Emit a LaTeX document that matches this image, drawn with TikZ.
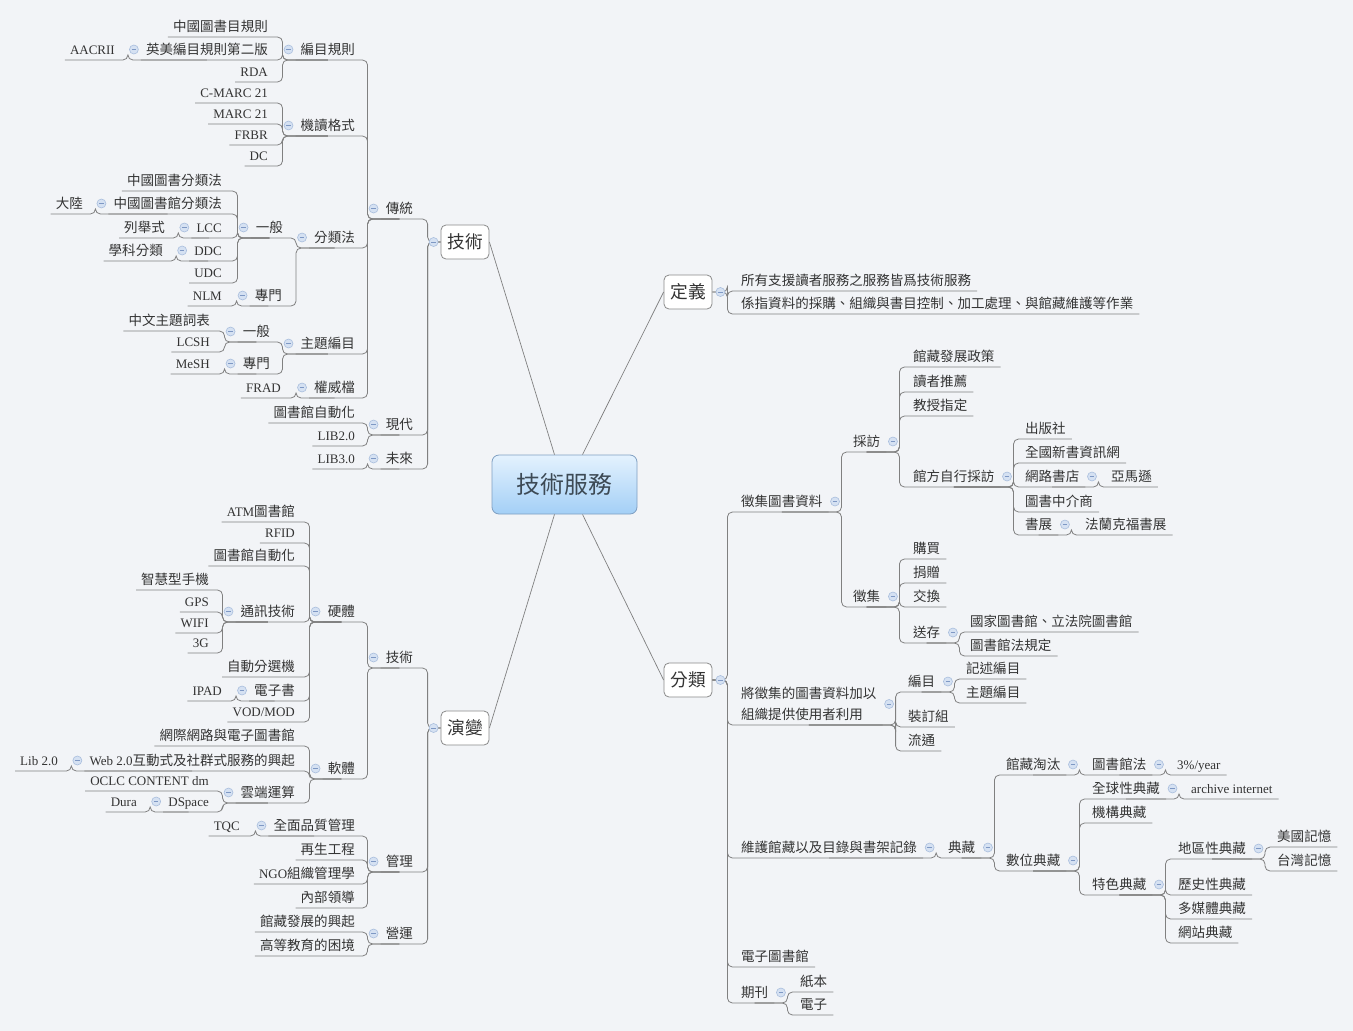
\documentclass[tikz,border=0pt]{standalone}
\usepackage{fontspec}
\usetikzlibrary{calc}
\setmainfont{Liberation Serif}
\newfontfamily\cjkf[Scale=1.04]{Noto Sans CJK TC}
\XeTeXinterchartokenstate=1
\newXeTeXintercharclass\cjkcls
\makeatletter
\count@="3000
\loop \XeTeXcharclass\count@=\cjkcls \advance\count@ by 1 \ifnum\count@<"3040 \repeat
\count@="4E00
\loop \XeTeXcharclass\count@=\cjkcls \advance\count@ by 1 \ifnum\count@<"A000 \repeat
\count@="FF00
\loop \XeTeXcharclass\count@=\cjkcls \advance\count@ by 1 \ifnum\count@<"FFF0 \repeat
\makeatother
\XeTeXinterchartoks 0 \cjkcls = {\cjkf}
\XeTeXinterchartoks 4095 \cjkcls = {\cjkf}
\XeTeXinterchartoks \cjkcls 0 = {\rmfamily}
\XeTeXinterchartoks \cjkcls 4095 = {\rmfamily}
\definecolor{bgc}{HTML}{F2F4F7}
\definecolor{lc}{HTML}{808080}
\definecolor{tc}{HTML}{333333}
\definecolor{togf}{HTML}{D5E1F2}
\definecolor{togd}{HTML}{A9BEDD}
\definecolor{togm}{HTML}{7E98C4}
\definecolor{bc}{HTML}{8A8A8A}
\definecolor{rtop}{HTML}{E4F2FE}
\definecolor{rbot}{HTML}{A3CFF6}
\definecolor{rbd}{HTML}{7F9FC2}
\definecolor{rtx}{HTML}{3D4A55}
\newcommand\txtf{\fontsize{13}{15}\selectfont}
\newcommand\boxf{\fontsize{17}{19}\selectfont}
\newcommand\rootf{\fontsize{23}{26}\selectfont}
\tikzset{
 txt/.style={inner xsep=0pt, inner ysep=0pt, text height=11pt, text depth=5.5pt, font=\txtf, text=tc},
 L/.style={txt, anchor=south east},
 R/.style={txt, anchor=south west},
 conn/.style={draw=lc, line width=0.8pt, rounded corners=5pt},
 rl/.style={draw=lc, line width=0.7pt},
 tog/.style={circle, draw=togd, fill=togf, minimum size=9pt, inner sep=0pt, line width=0.6pt,
   path picture={\draw[togm, line width=0.8pt] ([xshift=-2.3pt]path picture bounding box.center) -- ([xshift=2.3pt]path picture bounding box.center);}},
 mbox/.style={draw=bc, fill=white, rounded corners=5pt, minimum width=48pt, minimum height=34pt, inner sep=0pt, font=\boxf, text=tc, line width=0.8pt},
 rootbox/.style={draw=rbd, top color=rtop, bottom color=rbot, rounded corners=7pt, minimum width=145pt, minimum height=59pt, inner sep=0pt, font=\rootf, text=rtx, line width=0.8pt},
}
\newcommand\LL[2]{\draw[conn] ([xshift=-5pt]#1.south west) -- ($(#1.south -| #2.west)+(-18,0)$) |- (#2.south);}
\newcommand\RR[2]{\draw[conn] ([xshift=6pt]#1.south east) -- ($(#1.south -| #2.east)+(19,0)$) |- (#2.south);}
\newcommand\LB[2]{\draw[conn] ([xshift=-5pt]#1.south west) -- ($(#1.south -| #2.west)+(-13,0)$) |- (#2.west);}
\newcommand\RB[2]{\draw[conn] ([xshift=6pt]#1.south east) -- ($(#1.south -| #2.east)+(15,0)$) |- (#2.east);}
\newcommand\TL[1]{\node[tog] at ($(#1.south west)+(-12,-10.5)$) {};}
\newcommand\TR[1]{\node[tog] at ($(#1.south east)+(12.5,-10.5)$) {};}
\begin{document}
\begin{tikzpicture}[x=1pt,y=-1pt]
\fill[bgc] (0,0) rectangle (1353,1031);
\useasboundingbox (0,0) rectangle (1353,1031);
% root and main boxes
\node[rootbox] (root) at (564.5,484.5) {技術服務};
\node[mbox] (bT) at (465,242) {技術};
\node[mbox] (bE) at (465,728) {演變};
\node[mbox] (bD) at (688,292) {定義};
\node[mbox] (bC) at (688,680) {分類};
% ---- 技術 branch
\node[L] (t1) at (413,219) {傳統};
\node[L] (t2) at (413,435) {現代};
\node[L] (t3) at (413,469) {未來};
\node[L] (t11) at (355,60) {編目規則};
\node[L] (t12) at (355,136) {機讀格式};
\node[L] (t13) at (355,248) {分類法};
\node[L] (t14) at (355,354) {主題編目};
\node[L] (t15) at (355,398) {權威檔};
\node[L] (t111) at (268,37) {中國圖書目規則};
\node[L] (t112) at (268,60) {英美編目規則第二版};
\node[L] (t1121) at (115,60) {AACRII};
\node[L] (t113) at (268,82) {RDA};
\node[L] (t121) at (268,103) {C-MARC 21};
\node[L] (t122) at (268,124) {MARC 21};
\node[L] (t123) at (268,145) {FRBR};
\node[L] (t124) at (268,166) {DC};
\node[L] (t131) at (283,238) {一般};
\node[L] (t132) at (282,306) {專門};
\node[L] (t1311) at (222,191) {中國圖書分類法};
\node[L] (t1312) at (222,214) {中國圖書館分類法};
\node[L] (t13121) at (83,214) {大陸};
\node[L] (t1313) at (222,238) {LCC};
\node[L] (t13131) at (165,238) {列舉式};
\node[L] (t1314) at (222,261) {DDC};
\node[L] (t13141) at (163,261) {學科分類};
\node[L] (t1315) at (222,283) {UDC};
\node[L] (t1321) at (222,306) {NLM};
\node[L] (t141) at (270,342) {一般};
\node[L] (t142) at (270,374) {專門};
\node[L] (t1411) at (210,331) {中文主題詞表};
\node[L] (t1412) at (210,352) {LCSH};
\node[L] (t1421) at (210,374) {MeSH};
\node[L] (t151) at (281,398) {FRAD};
\node[L] (t21) at (355,423) {圖書館自動化};
\node[L] (t22) at (355,446) {LIB2.0};
\node[L] (t31) at (355,469) {LIB3.0};
% ---- 演變 branch
\node[L] (e1) at (413,668) {技術};
\node[L] (e2) at (413,872) {管理};
\node[L] (e3) at (413,944) {營運};
\node[L] (e11) at (355,622) {硬體};
\node[L] (e12) at (355,779) {軟體};
\node[L] (e111) at (295,522) {ATM圖書館};
\node[L] (e112) at (295,543) {RFID};
\node[L] (e113) at (295,566) {圖書館自動化};
\node[L] (e114) at (295,622) {通訊技術};
\node[L] (e115) at (295,677) {自動分選機};
\node[L] (e116) at (295,701) {電子書};
\node[L] (e1161) at (222,701) {IPAD};
\node[L] (e117) at (295,722) {VOD/MOD};
\node[L] (e1141) at (209,590) {智慧型手機};
\node[L] (e1142) at (209,612) {GPS};
\node[L] (e1143) at (209,633) {WIFI};
\node[L] (e1144) at (209,653) {3G};
\node[L] (e121) at (295,746) {網際網路與電子圖書館};
\node[L] (e122) at (295,771) {Web 2.0互動式及社群式服務的興起};
\node[L] (e1221) at (58,771) {Lib 2.0};
\node[L] (e123) at (295,803) {雲端運算};
\node[L] (e1231) at (209,791) {OCLC CONTENT dm};
\node[L] (e1232) at (209,812) {DSpace};
\node[L] (e12321) at (137,812) {Dura};
\node[L] (e21) at (355,836) {全面品質管理};
\node[L] (e211) at (240,836) {TQC};
\node[L] (e22) at (355,860) {再生工程};
\node[L] (e23) at (355,884) {NGO組織管理學};
\node[L] (e24) at (355,908) {內部領導};
\node[L] (e31) at (355,932) {館藏發展的興起};
\node[L] (e32) at (355,956) {高等教育的困境};
% ---- 定義 branch
\node[R] (d1) at (741,291) {所有支援讀者服務之服務皆爲技術服務};
\node[R] (d2) at (741,314) {係指資料的採購、組織與書目控制、加工處理、與館藏維護等作業};
% ---- 分類 branch
\node[R] (c1) at (741,512) {徵集圖書資料};
\node[R] (c2) at (741,725) {\fontsize{13}{21}\selectfont\begin{tabular}[b]{@{}l@{}}將徵集的圖書資料加以\\組織提供使用者利用\end{tabular}};
\node[R] (c3) at (741,858) {維護館藏以及目錄與書架記錄};
\node[R] (c4) at (741,967) {電子圖書館};
\node[R] (c5) at (741,1003) {期刊};
\node[R] (c11) at (853,452) {採訪};
\node[R] (c12) at (853,607) {徵集};
\node[R] (c111) at (913,367) {館藏發展政策};
\node[R] (c112) at (913,392) {讀者推薦};
\node[R] (c113) at (913,416) {教授指定};
\node[R] (c114) at (913,487) {館方自行採訪};
\node[R] (c1141) at (1025,439) {出版社};
\node[R] (c1142) at (1025,463) {全國新書資訊網};
\node[R] (c1143) at (1025,487) {網路書店};
\node[R] (c11431) at (1111,487) {亞馬遜};
\node[R] (c1144) at (1025,512) {圖書中介商};
\node[R] (c1145) at (1025,535) {書展};
\node[R] (c11451) at (1085,535) {法蘭克福書展};
\node[R] (c121) at (913,559) {購買};
\node[R] (c122) at (913,583) {捐贈};
\node[R] (c123) at (913,607) {交換};
\node[R] (c124) at (913,643) {送存};
\node[R] (c1241) at (970,632) {國家圖書館、立法院圖書館};
\node[R] (c1242) at (970,656) {圖書館法規定};
\node[R] (c21) at (908,692) {編目};
\node[R] (c22) at (908,727) {裝訂組};
\node[R] (c23) at (908,751) {流通};
\node[R] (c211) at (966,679) {記述編目};
\node[R] (c212) at (966,703) {主題編目};
\node[R] (c31) at (948,858) {典藏};
\node[R] (c311) at (1006,775) {館藏淘汰};
\node[R] (c312) at (1006,871) {數位典藏};
\node[R] (c3111) at (1092,775) {圖書館法};
\node[R] (c31111) at (1177,775) {3\%/year};
\node[R] (c3121) at (1092,799) {全球性典藏};
\node[R] (c31211) at (1191,799) {archive internet};
\node[R] (c3122) at (1092,823) {機構典藏};
\node[R] (c3123) at (1092,895) {特色典藏};
\node[R] (c31231) at (1178,859) {地區性典藏};
\node[R] (c312311) at (1277,847) {美國記憶};
\node[R] (c312312) at (1277,871) {台灣記憶};
\node[R] (c31232) at (1178,895) {歷史性典藏};
\node[R] (c31233) at (1178,919) {多媒體典藏};
\node[R] (c31234) at (1178,943) {網站典藏};
\node[R] (c51) at (800,992) {紙本};
\node[R] (c52) at (800,1015) {電子};
% ---- connectors
\draw[rl] (bT.east) -- ([xshift=-10pt]root.north);
\draw[rl] (bD.west) -- ([xshift=18pt]root.north);
\draw[rl] ([xshift=-10pt]root.south) -- (bE.east);
\draw[rl] ([xshift=18pt]root.south) -- (bC.west);
\LB{t1}{bT}\LB{t2}{bT}\LB{t3}{bT}
\LL{t11}{t1}\LL{t12}{t1}\LL{t13}{t1}\LL{t14}{t1}\LL{t15}{t1}
\LL{t111}{t11}\LL{t112}{t11}\LL{t113}{t11}\LL{t1121}{t112}
\LL{t121}{t12}\LL{t122}{t12}\LL{t123}{t12}\LL{t124}{t12}
\LL{t131}{t13}\LL{t132}{t13}
\LL{t1311}{t131}\LL{t1312}{t131}\LL{t1313}{t131}\LL{t1314}{t131}\LL{t1315}{t131}
\LL{t13121}{t1312}\LL{t13131}{t1313}\LL{t13141}{t1314}
\LL{t1321}{t132}
\LL{t141}{t14}\LL{t142}{t14}\LL{t1411}{t141}\LL{t1412}{t141}\LL{t1421}{t142}
\LL{t151}{t15}
\LL{t21}{t2}\LL{t22}{t2}\LL{t31}{t3}
\LB{e1}{bE}\LB{e2}{bE}\LB{e3}{bE}
\LL{e11}{e1}\LL{e12}{e1}
\LL{e111}{e11}\LL{e112}{e11}\LL{e113}{e11}\LL{e114}{e11}\LL{e115}{e11}\LL{e116}{e11}\LL{e117}{e11}
\LL{e1161}{e116}
\LL{e1141}{e114}\LL{e1142}{e114}\LL{e1143}{e114}\LL{e1144}{e114}
\LL{e121}{e12}\LL{e122}{e12}\LL{e123}{e12}\LL{e1221}{e122}
\LL{e1231}{e123}\LL{e1232}{e123}\LL{e12321}{e1232}
\LL{e21}{e2}\LL{e22}{e2}\LL{e23}{e2}\LL{e24}{e2}\LL{e211}{e21}
\LL{e31}{e3}\LL{e32}{e3}
\RB{d1}{bD}\RB{d2}{bD}
\RB{c1}{bC}\RB{c2}{bC}\RB{c3}{bC}\RB{c4}{bC}\RB{c5}{bC}
\RR{c11}{c1}\RR{c12}{c1}
\RR{c111}{c11}\RR{c112}{c11}\RR{c113}{c11}\RR{c114}{c11}
\RR{c1141}{c114}\RR{c1142}{c114}\RR{c1143}{c114}\RR{c1144}{c114}\RR{c1145}{c114}
\RR{c11431}{c1143}\RR{c11451}{c1145}
\RR{c121}{c12}\RR{c122}{c12}\RR{c123}{c12}\RR{c124}{c12}
\RR{c1241}{c124}\RR{c1242}{c124}
\RR{c21}{c2}\RR{c22}{c2}\RR{c23}{c2}
\RR{c211}{c21}\RR{c212}{c21}
\RR{c31}{c3}
\RR{c311}{c31}\RR{c312}{c31}
\RR{c3111}{c311}\RR{c31111}{c3111}
\RR{c3121}{c312}\RR{c3122}{c312}\RR{c3123}{c312}\RR{c31211}{c3121}
\RR{c31231}{c3123}\RR{c31232}{c3123}\RR{c31233}{c3123}\RR{c31234}{c3123}
\RR{c312311}{c31231}\RR{c312312}{c31231}
\RR{c51}{c5}\RR{c52}{c5}
% ---- toggles
\node[tog] at ($(bT.west)+(-7,0)$) {};
\node[tog] at ($(bE.west)+(-7,0)$) {};
\node[tog] at ($(bD.east)+(8,0)$) {};
\node[tog] at ($(bC.east)+(8,0)$) {};
\TL{t1}\TL{t2}\TL{t3}\TL{t11}\TL{t12}\TL{t13}\TL{t14}\TL{t15}
\TL{t112}\TL{t131}\TL{t132}\TL{t1312}\TL{t1313}\TL{t1314}\TL{t141}\TL{t142}
\TL{e1}\TL{e2}\TL{e3}\TL{e11}\TL{e12}\TL{e114}\TL{e116}\TL{e122}\TL{e123}\TL{e1232}\TL{e21}
\TR{c1}\TR{c3}\TR{c5}\TR{c11}\TR{c12}\TR{c114}\TR{c1143}\TR{c1145}\TR{c124}
\TR{c21}\TR{c31}\TR{c311}\TR{c3111}\TR{c312}\TR{c3121}\TR{c3123}\TR{c31231}
\node[tog] at ($(c2.south east)+(12.5,-21)$) {};
\end{tikzpicture}
\end{document}
